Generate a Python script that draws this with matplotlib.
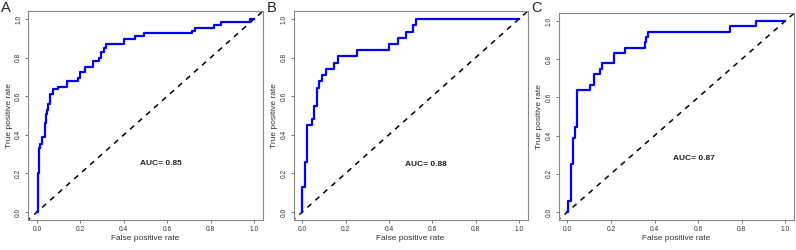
import matplotlib
matplotlib.use("Agg")
import matplotlib.pyplot as plt

plt.rcParams['font.family'] = ['Liberation Sans', 'DejaVu Sans']

# ROC staircases (fpr where the curve rises, tpr after the rise)
fpr_a = [0, 0.004, 0.008, 0.016, 0.024, 0.036, 0.040, 0.046, 0.052, 0.058, 0.072, 0.095,
         0.14, 0.19, 0.20, 0.22, 0.26, 0.285, 0.295, 0.31, 0.32, 0.40, 0.45, 0.495,
         0.715, 0.73, 0.815, 0.848, 0.98, 1.0]
tpr_a = [0, 0.2, 0.33, 0.35, 0.39, 0.46, 0.51, 0.53, 0.56, 0.61, 0.635, 0.65,
         0.68, 0.695, 0.725, 0.75, 0.78, 0.80, 0.83, 0.85, 0.87, 0.895, 0.91, 0.925,
         0.94, 0.955, 0.97, 0.985, 1.0, 1.0]

fpr_b = [0, 0.0, 0.011, 0.022, 0.045, 0.055, 0.066, 0.077, 0.089, 0.11, 0.145, 0.166,
         0.255, 0.40, 0.444, 0.48, 0.51, 0.523, 1.0]
tpr_b = [0, 0.129, 0.258, 0.452, 0.484, 0.548, 0.645, 0.677, 0.71, 0.742, 0.774, 0.806,
         0.839, 0.871, 0.903, 0.935, 0.968, 1.0, 1.0]

fpr_c = [0, 0.005, 0.015, 0.025, 0.034, 0.045, 0.105, 0.12, 0.148, 0.158, 0.213, 0.265,
         0.354, 0.362, 0.372, 0.745, 0.866, 1.0]
tpr_c = [0, 0.056, 0.25, 0.389, 0.444, 0.639, 0.667, 0.722, 0.75, 0.778, 0.833, 0.861,
         0.889, 0.917, 0.944, 0.972, 1.0, 1.0]

panels = ['A', 'B', 'C']
aucs = ['0.85', '0.88', '0.87']
ticks = [0.0, 0.2, 0.4, 0.6, 0.8, 1.0]
tick_labels = ['0.0', '0.2', '0.4', '0.6', '0.8', '1.0']

fig = plt.figure(figsize=(7.96, 2.5), dpi=100)
positions = [[0.0356, 0.1212, 0.2945, 0.8336],
             [0.3688, 0.1212, 0.2940, 0.8336],
             [0.7018, 0.1216, 0.2957, 0.8250]]
curves = [(fpr_a, tpr_a), (fpr_b, tpr_b), (fpr_c, tpr_c)]
auc_pos = [(0.57, 0.25), (0.57, 0.245), (0.58, 0.28)]

for i in range(3):
    ax = fig.add_axes(positions[i])
    fpr, tpr = curves[i]
    ax.plot(fpr, tpr, drawstyle='steps-post', color='#0000ff', lw=1.6, zorder=3)
    ax.plot([-0.05, 1.05], [-0.05, 1.05], color='black', lw=1.1, dashes=[3.5, 3.5], zorder=2)
    ax.set_xlim(-0.04, 1.04)
    ax.set_ylim(-0.04, 1.04)
    ax.set_xticks(ticks)
    ax.set_xticklabels(tick_labels)
    ax.set_yticks(ticks)
    ax.set_yticklabels(tick_labels, rotation=90, va='center')
    ax.tick_params(length=2.3, width=0.6, color='#666666', labelsize=4.8,
                   labelcolor='#333333', pad=2.2)
    for s in ax.spines.values():
        s.set_color('#888888')
        s.set_linewidth(0.8)
    ax.set_xlabel('False positive rate', fontsize=6, color='#333333', labelpad=1.2)
    ax.set_ylabel('True positive rate', fontsize=6, color='#333333', labelpad=1.8)
    ax.text(auc_pos[i][0], auc_pos[i][1], 'AUC= ' + aucs[i], fontsize=6,
            fontweight='bold', ha='center', va='center', color='#222222')
    # panel letter in the top-left corner
    fig.text(positions[i][0] - 0.034, 0.995, panels[i], fontsize=10.5,
             ha='left', va='top', color='#222222')

fig.savefig('out.png', dpi=100)
